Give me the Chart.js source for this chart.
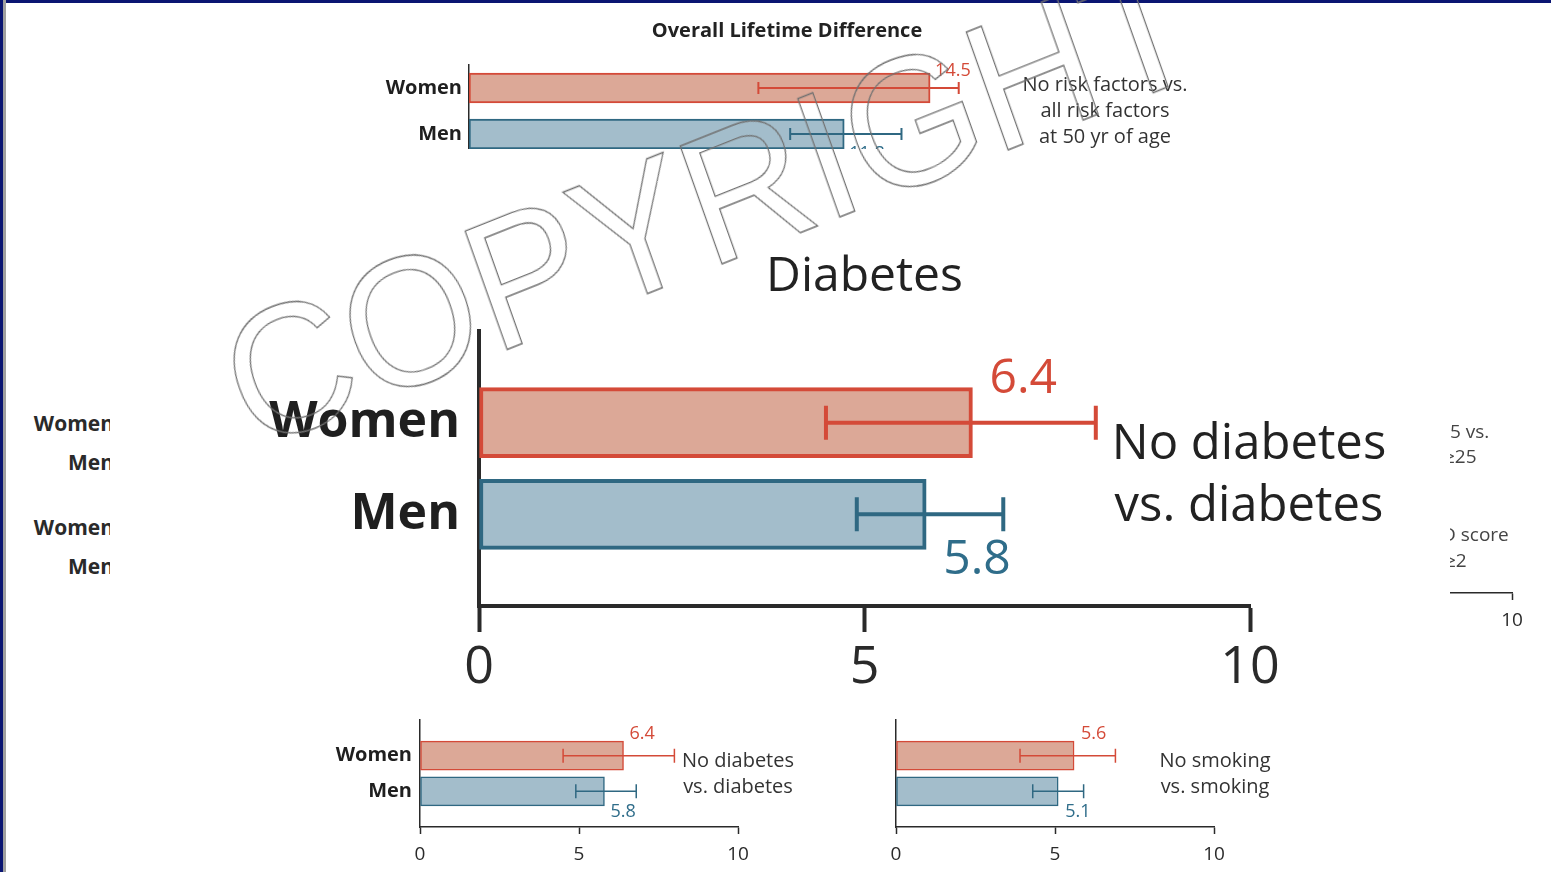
<!DOCTYPE html>
<html>
<head>
<meta charset="utf-8">
<script src="https://cdn.jsdelivr.net/npm/chart.js@4.4.1/dist/chart.umd.min.js"></script>
<style>
html, body { margin: 0; padding: 0; background: #fff; }
body { width: 1551px; height: 872px; position: relative; overflow: hidden; font-family: 'Open Sans', sans-serif; }
.frame-top { position: absolute; left: 0; top: 0; width: 1551px; height: 3px; background: #0a1572; }
.frame-left { position: absolute; left: 0; top: 0; width: 3px; height: 872px; background: #0a1572; border-right: 3px solid #a0a0a0; }
.panel { position: absolute; overflow: hidden; }
canvas { position: absolute; }
.note { position: absolute; text-align: center; white-space: nowrap; color: #333; }
.frag { position: absolute; white-space: nowrap; font-weight: bold; font-size: 21px; color: #2a2a2a; line-height: 26px; }
.frag-r { position: absolute; white-space: nowrap; font-size: 19px; color: #444; line-height: 26px; }
.stamp { position: absolute; left: 160px; top: 115px; width: 1100px; height: 172px; line-height: 172px;
         font-family: 'Liberation Sans', Arial, sans-serif; font-size: 172px; text-align: center;
         color: transparent; -webkit-text-stroke: 1.2px #707070; transform: scaleY(1.06) rotate(-20.6deg);
         pointer-events: none; z-index: 10; }
</style>
</head>
<body>
<div class="frame-top"></div>
<div class="frame-left"></div>

<!-- top panel, cut off by the crop -->
<div class="panel" style="left:300px; top:0; width:970px; height:149px;">
  <canvas id="overall" width="970" height="176" style="left:0; top:0;"></canvas>
</div>
<div class="note" style="left:1005px; top:71px; width:200px; font-size:20px; line-height:26px;">No risk factors vs.<br>all risk factors<br>at 50 yr of age</div>

<!-- zoomed diabetes panel -->
<canvas id="diabetesBig" width="1260" height="480" style="left:234px; top:230px;"></canvas>
<div class="note" style="left:1049px; top:409px; width:400px; font-size:49px; line-height:62px; color:#222;">No diabetes<br>vs. diabetes</div>

<!-- small panels at the bottom -->
<canvas id="diabetesSmall" width="520" height="172" style="left:300px; top:700px;"></canvas>
<div class="note" style="left:638px; top:747px; width:200px; font-size:20px; line-height:26px;">No diabetes<br>vs. diabetes</div>
<canvas id="smokingSmall" width="520" height="172" style="left:776px; top:700px;"></canvas>
<div class="note" style="left:1115px; top:747px; width:200px; font-size:20px; line-height:26px;">No smoking<br>vs. smoking</div>

<!-- fragments of neighbouring panels -->
<div class="panel" style="left:6px; top:400px; width:104px; height:190px;">
  <div class="frag" style="right:-4px; top:10px;">Women</div>
  <div class="frag" style="right:-4px; top:49px;">Men</div>
  <div class="frag" style="right:-4px; top:114px;">Women</div>
  <div class="frag" style="right:-4px; top:153px;">Men</div>
</div>
<div class="panel" style="left:1450px; top:380px; width:101px; height:260px;">
  <div class="frag-r" style="left:0; top:38px;">5 vs.</div>
  <div class="frag-r" style="left:-6px; top:63px;">≥25</div>
  <div class="frag-r" style="left:-8px; top:141px;">D score</div>
  <div class="frag-r" style="left:-5px; top:167px;">≥2</div>
  <canvas id="sidePanel" width="520" height="172" style="left:-376px; top:86px;"></canvas>
</div>

<div class="stamp">COPYRIGHT</div>

<script>
// categories
const sexes = ['Women', 'Men'];
const xTicks = [0, 5, 10];

// years of life gained (point estimate, lower and upper bound)
const overallYears = [14.5, 11.8];
const overallLow   = [9.1, 10.1];
const overallHigh  = [15.4, 13.6];

const diabetesYears = [6.4, 5.8];
const diabetesLow   = [4.5, 4.9];
const diabetesHigh  = [8.0, 6.8];

const smokingYears = [5.6, 5.1];
const smokingLow   = [3.9, 4.3];
const smokingHigh  = [6.9, 5.9];

const fillColors = ['#dca897', '#a3bdcb'];
const edgeColors = ['#d44a38', '#2f6882'];
const textColors = ['#d44a38', '#2f6d8a'];
const axisColor = '#2a2a2a';

Chart.defaults.font.family = "'Open Sans', sans-serif";
Chart.defaults.color = '#222';

// whiskers drawn from the x scale
const errorBarPlugin = {
    id: 'errorBars',
    afterDatasetsDraw(chart, args, opts) {
        if (!opts.low) return;
        const meta = chart.getDatasetMeta(0);
        const xs = chart.scales.x;
        const ctx = chart.ctx;
        ctx.save();
        ctx.lineWidth = opts.width;
        meta.data.forEach((bar, i) => {
            const lo = opts.low[i], hi = opts.high[i];
            if (lo == null || hi == null) return;
            const x0 = xs.getPixelForValue(lo), x1 = xs.getPixelForValue(hi);
            const y = bar.y;
            ctx.strokeStyle = opts.colors[i];
            ctx.beginPath();
            ctx.moveTo(x0, y); ctx.lineTo(x1, y);
            ctx.moveTo(x0, y - opts.cap); ctx.lineTo(x0, y + opts.cap);
            ctx.moveTo(x1, y - opts.cap); ctx.lineTo(x1, y + opts.cap);
            ctx.stroke();
        });
        ctx.restore();
    }
};

// value next to the bar end: first bar above, second below
const valueLabelPlugin = {
    id: 'valueLabels',
    afterDatasetsDraw(chart, args, opts) {
        if (!opts.size) return;
        const meta = chart.getDatasetMeta(0);
        const values = chart.data.datasets[0].data;
        const ctx = chart.ctx;
        let n = 0;
        ctx.save();
        ctx.font = opts.size + "px 'Open Sans', sans-serif";
        ctx.textAlign = 'left';
        ctx.textBaseline = 'alphabetic';
        meta.data.forEach((bar, i) => {
            const v = values[i];
            if (v == null) return;
            const half = bar.height / 2;
            const y = n === 0 ? bar.y - half + opts.aboveDy : bar.y + half + opts.belowDy;
            ctx.fillStyle = opts.colors[i];
            ctx.fillText(v.toFixed(1), bar.x + opts.dx, y);
            n++;
        });
        ctx.restore();
    }
};

Chart.register(errorBarPlugin, valueLabelPlugin);

function sexBarChart(id, c) {
    const pad = a => c.padded ? [null, ...a, null] : a;
    const labels = c.padded ? ['', ...sexes, ''] : sexes;
    return new Chart(document.getElementById(id), {
        type: 'bar',
        data: {
            labels: labels,
            datasets: [{
                data: pad(c.values),
                backgroundColor: pad(fillColors),
                borderColor: pad(edgeColors),
                borderWidth: c.edge,
                borderSkipped: false,
                barThickness: c.thickness
            }]
        },
        options: {
            indexAxis: 'y',
            responsive: false,
            animation: false,
            layout: { padding: c.padding },
            plugins: {
                legend: { display: false },
                tooltip: { enabled: false },
                title: c.title ? {
                    display: true,
                    fullSize: false,
                    text: c.title.text,
                    color: '#222',
                    font: { size: c.title.size, weight: c.title.weight, lineHeight: 1.2 },
                    padding: c.title.padding
                } : { display: false },
                errorBars: c.low ? {
                    low: pad(c.low), high: pad(c.high), colors: pad(edgeColors),
                    width: c.whisker, cap: c.cap
                } : {},
                valueLabels: c.label ? {
                    size: c.label.size, dx: c.label.dx, aboveDy: c.label.aboveDy,
                    belowDy: c.label.belowDy, colors: pad(textColors)
                } : {}
            },
            scales: {
                x: {
                    display: c.showX,
                    min: 0,
                    max: c.max,
                    afterBuildTicks: s => { s.ticks = xTicks.map(v => ({ value: v })); },
                    ticks: { font: { size: c.tickSize }, color: '#2a2a2a', padding: c.tickPad, maxRotation: 0 },
                    grid: { drawOnChartArea: false, drawTicks: true, tickLength: c.tickLength,
                            tickWidth: c.axisWidth, tickColor: axisColor },
                    border: { color: axisColor, width: c.axisWidth },
                    afterFit: s => { s.height = c.xHeight; }
                },
                y: {
                    offset: !c.padded,
                    grid: { display: false, drawTicks: false },
                    border: { color: axisColor, width: c.axisWidth },
                    ticks: { display: c.showNames, autoSkip: false,
                             font: { size: c.nameSize, weight: 'bold' }, color: '#1f1f1f', padding: c.namePad },
                    afterFit: s => { s.width = c.yWidth; }
                }
            }
        }
    });
}

sexBarChart('overall', {
    values: overallYears, low: overallLow, high: overallHigh,
    padded: false, max: 20, showX: false, showNames: true,
    title: { text: 'Overall Lifetime Difference', size: 20, weight: 'bold', padding: { top: 19, bottom: 22 } },
    padding: { left: 0, right: 165, top: 0, bottom: 0 },
    yWidth: 169, nameSize: 20, namePad: 7,
    xHeight: 0, tickSize: 12, tickPad: 0, tickLength: 0,
    thickness: 30, edge: 2, axisWidth: 1.5,
    whisker: 2, cap: 6,
    label: { size: 18, dx: 5, aboveDy: 3, belowDy: 10 }
});

sexBarChart('diabetesBig', {
    values: diabetesYears, low: diabetesLow, high: diabetesHigh,
    padded: true, max: 10, showX: true, showNames: true,
    title: { text: 'Diabetes', size: 48, weight: 'normal', padding: { top: 19, bottom: 24.4 } },
    padding: { left: 0, right: 244, top: 0, bottom: 0 },
    yWidth: 245, nameSize: 50, namePad: 19,
    xHeight: 104, tickSize: 52, tickPad: 5, tickLength: 26,
    thickness: 70, edge: 4, axisWidth: 4,
    whisker: 4, cap: 17,
    label: { size: 48, dx: 17, aboveDy: 5, belowDy: 25 }
});

const smallPanel = {
    padded: true, max: 10, showX: true,
    padding: { left: 0, right: 82, top: 20, bottom: 0 },
    yWidth: 120, nameSize: 20, namePad: 8,
    xHeight: 45, tickSize: 19, tickPad: 9, tickLength: 7,
    thickness: 29, edge: 1.5, axisWidth: 1.5,
    whisker: 1.5, cap: 7
};

sexBarChart('diabetesSmall', Object.assign({}, smallPanel, {
    values: diabetesYears, low: diabetesLow, high: diabetesHigh, showNames: true,
    label: { size: 18, dx: 6, aboveDy: -2, belowDy: 11 }
}));

sexBarChart('smokingSmall', Object.assign({}, smallPanel, {
    values: smokingYears, low: smokingLow, high: smokingHigh, showNames: false,
    label: { size: 18, dx: 7, aboveDy: -2, belowDy: 11 }
}));

// neighbouring panel, only the end of its axis shows in the crop
sexBarChart('sidePanel', Object.assign({}, smallPanel, {
    values: [null, null], showNames: false
}));
</script>
</body>
</html>
